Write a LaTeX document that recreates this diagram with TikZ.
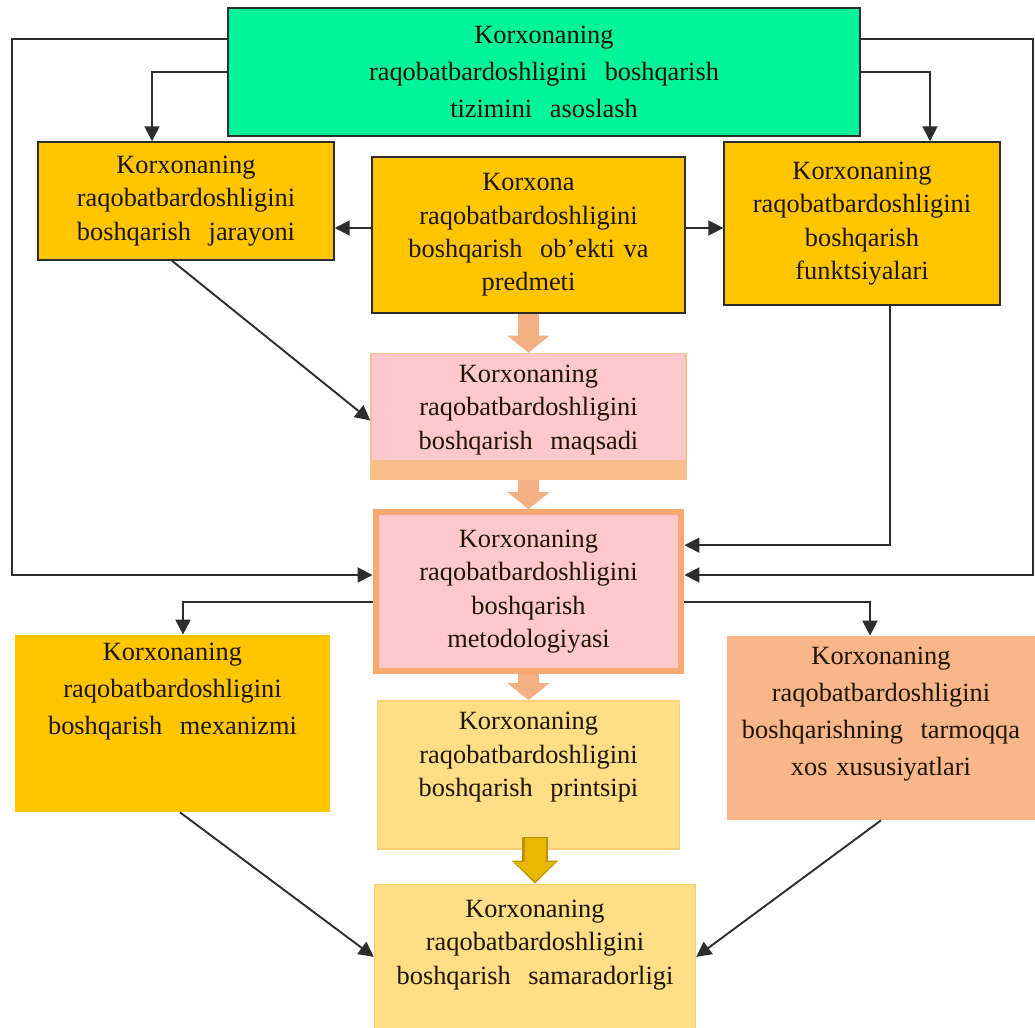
\documentclass[tikz,border=0pt]{standalone}
\usepackage{fontspec}
\setmainfont{Liberation Serif}
\usetikzlibrary{arrows.meta,positioning}

\definecolor{topgreen}{RGB}{0,245,155}
\definecolor{gold}{RGB}{255,198,0}
\definecolor{lightgold}{RGB}{255,222,135}
\definecolor{pinkfill}{RGB}{255,200,204}
\definecolor{peach}{RGB}{248,190,140}
\definecolor{orangeline}{RGB}{246,168,110}
\definecolor{salmon}{RGB}{248,182,138}
\definecolor{fatorange}{RGB}{244,176,130}
\definecolor{fatgold}{RGB}{232,184,0}
\definecolor{fatgoldline}{RGB}{190,145,0}
\definecolor{wire}{RGB}{45,45,45}
\definecolor{ink}{RGB}{30,20,0}

\tikzset{
	box/.style={draw=wire, line width=0.03cm, inner sep=0pt, align=center,
		text=ink, font={\fontsize{15}{19}\selectfont}},
	panel/.style={inner sep=0pt},
	caption/.style={inner sep=0pt, align=center, text width=6cm,
		text=ink, font={\fontsize{15}{19}\selectfont}},
	conn/.style={draw=wire, line width=0.038cm, -{Triangle[length=0.3cm,width=0.3cm]}},
	fat/.style={line width=0.42cm, fatorange, -{Triangle[length=0.34cm,width=0.82cm]}}
}

\begin{document}
\begin{tikzpicture}[x=0.02cm, y=-0.02cm]
	\useasboundingbox (0,0) rectangle (1035,1028);
	% top row
	\node[box, fill=topgreen,
	minimum width=12.64cm,
	minimum height=2.56cm,
	text width=12cm,
	font={\fontsize{15}{21}\selectfont}] (top) at (544,72) {
	Korxonaning\\ raqobatbardoshligini\ \ boshqarish\\ tizimini\ \ asoslash
	};
	\node[box, fill=gold,
	minimum width=5.92cm,
	minimum height=2.36cm,
	text width=5.6cm] (proc) at (186,201) {
	Korxonaning\\ raqobatbardoshligini\\ boshqarish\ \ jarayoni
	};
	\node[box, fill=gold,
	minimum width=6.26cm,
	minimum height=3.12cm,
	text width=6cm] (obj) at (528.5,235) {
	Korxona\\ raqobatbardoshligini\\ boshqarish\ \ ob'ekti va\\ predmeti
	};
	\node[box, fill=gold,
	minimum width=5.52cm,
	minimum height=3.26cm,
	text width=5.3cm] (func) at (862,223.5) {
	Korxonaning\\ raqobatbardoshligini\\ boshqarish\\ funktsiyalari
	};
	
	% middle column
	\node[panel, fill=pinkfill, draw=peach, line width=0.03cm,
	minimum width=6.3cm,
	minimum height=2.52cm,
	below=0.78cm of obj] (aim) {};
	\fill[peach] (aim.south west) rectangle ([yshift=0.4cm]aim.south east);
	\node[caption, below=0.24cm of aim.north] (aimtext) {
	Korxonaning\\ raqobatbardoshligini\\ boshqarish\ \ maqsadi
	};
	\node[box, fill=pinkfill, draw=orangeline, line width=0.12cm,
	minimum width=6.12cm,
	minimum height=3.18cm,
	text width=6cm,
	below=0.58cm of aim] (meth) {
	Korxonaning\\ raqobatbardoshligini\\ boshqarish\\ metodologiyasi
	};
	\node[panel, fill=lightgold, draw=lightgold!85!orange, line width=0.03cm,
	minimum width=6.04cm,
	minimum height=2.96cm,
	below=0.52cm of meth] (princ) {};
	\node[caption, below=0.24cm of princ.north] (princtext) {
	Korxonaning\\ raqobatbardoshligini\\ boshqarish\ \ printsipi
	};
	\node[panel, fill=lightgold, draw=lightgold!85!orange, line width=0.03cm,
	minimum width=6.42cm,
	minimum height=2.9cm,
	below=0.68cm of princ, xshift=0.13cm] (eff) {};
	\node[caption, below=0.32cm of eff.north] (efftext) {
	Korxonaning\\ raqobatbardoshligini\\ boshqarish\ \ samaradorligi
	};
	
	% bottom sides
	\node[panel, fill=gold,
	minimum width=6.3cm,
	minimum height=3.54cm] (mech) at (172.5,723.5) {};
	\node[caption, below=0.16cm of mech.north,
	font={\fontsize{15}{21}\selectfont}] (mechtext) {
	Korxonaning\\ raqobatbardoshligini\\ boshqarish\ \ mexanizmi
	};
	\node[panel, fill=salmon,
	minimum width=6.16cm,
	minimum height=3.68cm] (ind) at (881,728) {};
	\node[caption, below=0.22cm of ind.north,
	font={\fontsize{15}{21}\selectfont}] (indtext) {
	Korxonaning\\ raqobatbardoshligini\\ boshqarishning\ \ tarmoqqa\\ xos xususiyatlari
	};
	
	% rails
	\coordinate (lrail) at (12,575);
	\coordinate (rrail) at (1033,575);
	
	% Arrows
	\draw[conn] ([yshift=-0.64cm]top.north west) -| (lrail) -- (lrail -| meth.west);
	\draw[conn] ([yshift=-0.64cm]top.north east) -| (rrail) -- (rrail -| meth.east);
	\draw[conn] (top.west) -| ([xshift=-0.68cm]proc.north);
	\draw[conn] (top.east) -| ([xshift=1.36cm]func.north);
	\draw[conn] ([yshift=0.14cm]obj.west) -- ([yshift=0.14cm]obj.west -| proc.east);
	\draw[conn] ([yshift=0.14cm]obj.east) -- ([yshift=0.14cm]obj.east -| func.west);
	\draw[conn] ([xshift=-0.28cm]proc.south) -- ([yshift=-0.08cm]aim.west);
	\draw[conn] ([xshift=0.56cm]func.south) |- ([yshift=0.93cm]meth.east);
	\draw[conn] ([yshift=-0.21cm]meth.west) -| ([xshift=0.21cm]mech.north);
	\draw[conn] ([yshift=-0.21cm]meth.east) -| ([xshift=-0.22cm]ind.north);
	\draw[conn] ([xshift=0.15cm]mech.south) -- (eff.west);
	\draw[conn] (ind.south) -- (eff.east);
	
	% block arrows
	\draw[fat] (obj.south) -- (aim.north);
	\draw[fat] (aim.south) -- (meth.north);
	\draw[fat] (meth.south) -- (princ.north);
	\draw[fat, line width=0.52cm, fatgoldline, -{Triangle[length=0.46cm,width=0.9cm]}]
	([yshift=0.26cm]princ.south -| eff.north) -- (eff.north);
	\draw[fat, fatgold, shorten >=0.05cm, -{Triangle[length=0.38cm,width=0.8cm]}]
	([yshift=0.24cm]princ.south -| eff.north) -- (eff.north);
\end{tikzpicture}
\end{document}
